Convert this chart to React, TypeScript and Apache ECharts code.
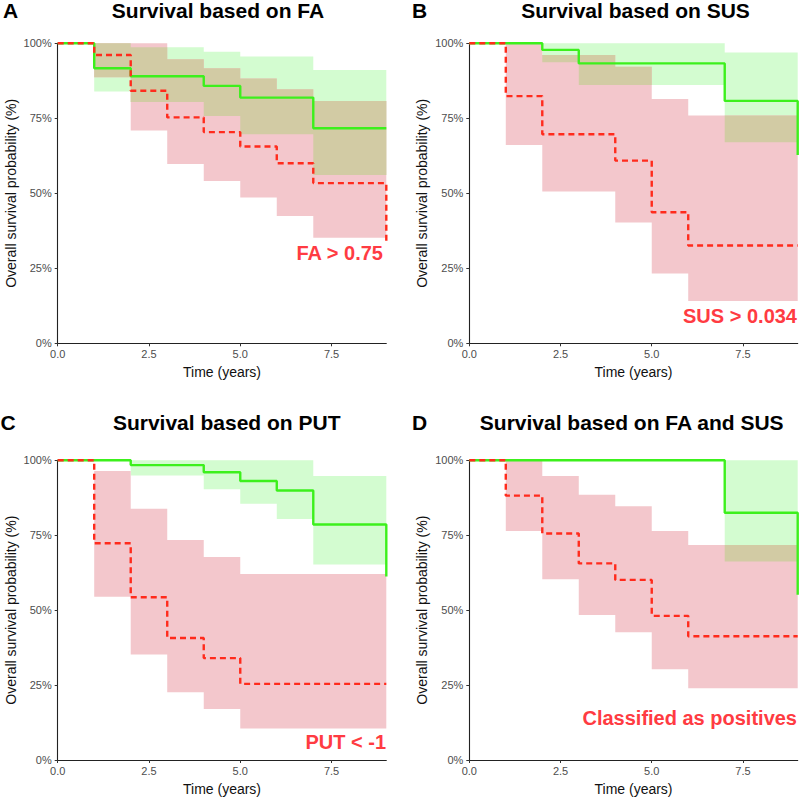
import React, { useEffect, useRef } from "react";
import * as echarts from "echarts";

// Follow-up time grid (years); every step interval runs years[i] .. years[i + 1]
const years = [0, 1, 2, 3, 4, 5, 6, 7, 8, 9];
const xTicks = [0, 2.5, 5, 7.5];

// A – FA: reference group (green) and FA > 0.75 (red), survival in %
const faNegSurv = [100, 91.7, 89.0, 89.0, 85.8, 81.9, 81.9, 71.7, 71.7];
const faNegEnd = 71.7;
const faNegUpper = [null, 100, 98.7, 98.7, 97.2, 95.6, 95.6, 91.1, 91.1];
const faNegLower = [null, 83.9, 80.4, 80.4, 75.8, 69.7, 69.7, 56.1, 56.1];
const faPosSurv = [100, 96.1, 84.2, 75.3, 70.4, 65.6, 60.0, 53.4, 53.4];
const faPosEnd = 33.3;
const faPosUpper = [null, 100, 100, 94.7, 91.7, 88.3, 84.7, 80.8, 80.8];
const faPosLower = [null, 88.7, 70.9, 59.8, 54.1, 48.6, 42.4, 35.2, 35.2];

// B – SUS
const susNegSurv = [100, 100, 97.8, 93.3, 93.3, 93.3, 93.3, 80.8, 80.8];
const susNegEnd = 62.8;
const susNegUpper = [null, null, 100, 100, 100, 100, 100, 96.9, 96.9];
const susNegLower = [null, null, 93.7, 86.1, 86.1, 86.1, 86.1, 67.0, 67.0];
const susPosSurv = [100, 82.4, 69.7, 69.7, 60.9, 43.7, 32.6, 32.6, 32.6];
const susPosEnd = 32.6;
const susPosUpper = [null, 100, 96.1, 96.1, 92.2, 81.4, 75.9, 75.9, 75.9];
const susPosLower = [null, 66.1, 50.6, 50.6, 40.3, 23.3, 14.1, 14.1, 14.1];

// C – PUT
const putNegSurv = [100, 100, 98.4, 98.4, 96.0, 93.1, 89.9, 78.6, 78.6];
const putNegEnd = 61.2;
const putNegUpper = [null, null, 100, 100, 100, 100, 100, 94.8, 94.8];
const putNegLower = [null, null, 94.9, 94.9, 90.3, 85.5, 80.4, 65.2, 65.2];
const putPosSurv = [100, 72.3, 54.3, 40.7, 34.0, 25.4, 25.4, 25.4, 25.4];
const putPosEnd = 25.4;
const putPosUpper = [null, 96.4, 83.8, 73.4, 67.7, 62.1, 62.1, 62.1, 62.1];
const putPosLower = [null, 54.5, 35.2, 22.6, 17.0, 10.5, 10.5, 10.5, 10.5];

// D – FA and SUS combined
const bothNegSurv = [100, 100, 100, 100, 100, 100, 100, 82.5, 82.5];
const bothNegEnd = 55.1;
const bothNegUpper = [null, null, null, null, null, null, null, 100, 100];
const bothNegLower = [null, null, null, null, null, null, null, 66.2, 66.2];
const bothPosSurv = [100, 88.2, 75.6, 65.6, 60.1, 48.1, 41.3, 41.3, 41.3];
const bothPosEnd = 41.3;
const bothPosUpper = [null, 100, 94.8, 88.5, 84.7, 76.4, 71.7, 71.7, 71.7];
const bothPosLower = [null, 76.4, 60.3, 48.4, 42.6, 30.3, 23.9, 23.9, 23.9];

const panelTitles = [
  "Survival based on FA",
  "Survival based on SUS",
  "Survival based on PUT",
  "Survival based on FA and SUS",
];
const panelLetters = ["A", "B", "C", "D"];
const groupLabels = ["FA > 0.75", "SUS > 0.034", "PUT < -1", "Classified as positives"];

type Band = { upper: (number | null)[]; lower: (number | null)[] };
type Arm = Band & { surv: number[]; end: number };

const arms: { neg: Arm; pos: Arm }[] = [
  {
    neg: { surv: faNegSurv, end: faNegEnd, upper: faNegUpper, lower: faNegLower },
    pos: { surv: faPosSurv, end: faPosEnd, upper: faPosUpper, lower: faPosLower },
  },
  {
    neg: { surv: susNegSurv, end: susNegEnd, upper: susNegUpper, lower: susNegLower },
    pos: { surv: susPosSurv, end: susPosEnd, upper: susPosUpper, lower: susPosLower },
  },
  {
    neg: { surv: putNegSurv, end: putNegEnd, upper: putNegUpper, lower: putNegLower },
    pos: { surv: putPosSurv, end: putPosEnd, upper: putPosUpper, lower: putPosLower },
  },
  {
    neg: { surv: bothNegSurv, end: bothNegEnd, upper: bothNegUpper, lower: bothNegLower },
    pos: { surv: bothPosSurv, end: bothPosEnd, upper: bothPosUpper, lower: bothPosLower },
  },
];

const FONT = '"Liberation Sans", Arial, Helvetica, sans-serif';
const GREEN_LINE = "#3CF01C";
const RED_LINE = "#FF2B1C";
const GREEN_FILL = "#D3FCD0";
const RED_FILL = "#F3C7CC";
const BOTH_FILL = "#D2CBA4";
const LABEL_RED = "#FF3B42";

// Pixel layout of the four panels
const layouts = [
  { left: 57.7, top: 43.3, width: 328.6, height: 300, titleX: 218, titleY: 10, letterX: 3, letterY: 10, labelX: 383, labelY: 253 },
  { left: 469.3, top: 43.3, width: 328.4, height: 300, titleX: 635.5, titleY: 10, letterX: 412, letterY: 10, labelX: 797, labelY: 315.5 },
  { left: 57.7, top: 460.3, width: 328.6, height: 299.7, titleX: 226.7, titleY: 422, letterX: 0.5, letterY: 422, labelX: 386, labelY: 742 },
  { left: 469.3, top: 460.3, width: 328.4, height: 299.7, titleX: 631.7, titleY: 422, letterX: 412, letterY: 422, labelX: 797, labelY: 717.5 },
];

// Where both confidence bands cover the same interval
function overlapOf(a: Band, b: Band): Band {
  const upper: (number | null)[] = [];
  const lower: (number | null)[] = [];
  a.upper.forEach((_, i) => {
    const au = a.upper[i], al = a.lower[i], bu = b.upper[i], bl = b.lower[i];
    if (au == null || al == null || bu == null || bl == null) {
      upper.push(null);
      lower.push(null);
      return;
    }
    const hi = Math.min(au, bu);
    const lo = Math.max(al, bl);
    upper.push(hi > lo ? hi : null);
    lower.push(hi > lo ? lo : null);
  });
  return { upper, lower };
}

// Split a band into runs of consecutive defined intervals
function segmentsOf(upper: (number | null)[]): number[][] {
  const segs: number[][] = [];
  let cur: number[] = [];
  upper.forEach((v, i) => {
    if (v == null) {
      if (cur.length) segs.push(cur);
      cur = [];
    } else cur.push(i);
  });
  if (cur.length) segs.push(cur);
  return segs;
}

function bandSeries(gi: number, band: Band, fill: string) {
  const segs = segmentsOf(band.upper);
  return {
    type: "custom",
    xAxisIndex: gi,
    yAxisIndex: gi,
    silent: true,
    data: segs.map((s) => [
      years[s[0]],
      years[s[s.length - 1] + 1],
      Math.min(...s.map((i) => band.lower[i] as number)),
      Math.max(...s.map((i) => band.upper[i] as number)),
    ]),
    encode: { x: [0, 1], y: [2, 3] },
    renderItem: (params: any, api: any) => {
      const seg = segs[params.dataIndex];
      const pts: number[][] = [];
      seg.forEach((i) => {
        pts.push(api.coord([years[i], band.upper[i]]));
        pts.push(api.coord([years[i + 1], band.upper[i]]));
      });
      for (let k = seg.length - 1; k >= 0; k--) {
        const i = seg[k];
        pts.push(api.coord([years[i + 1], band.lower[i]]));
        pts.push(api.coord([years[i], band.lower[i]]));
      }
      return { type: "polygon", shape: { points: pts }, style: { fill } };
    },
  };
}

function stepSeries(gi: number, arm: Arm, color: string, dashed: boolean) {
  const data = arm.surv.map((v, i) => [years[i], v]);
  data.push([years[years.length - 1], arm.end]);
  return {
    type: "line",
    xAxisIndex: gi,
    yAxisIndex: gi,
    step: "end",
    symbol: "none",
    silent: true,
    data,
    lineStyle: {
      color,
      width: 2.4,
      type: dashed ? [6, 4] : "solid",
      cap: "butt",
    },
  };
}

function buildOption() {
  const grid = layouts.map((l) => ({ left: l.left, top: l.top, width: l.width, height: l.height }));
  const xAxis = layouts.map((_, gi) => ({
    type: "value",
    gridIndex: gi,
    min: 0,
    max: 9,
    name: "Time (years)",
    nameLocation: "middle",
    nameGap: 22,
    nameTextStyle: { fontSize: 14, color: "#111", fontFamily: FONT },
    axisLine: { show: true, onZero: false, lineStyle: { color: "#222", width: 1.1 } },
    axisTick: { show: true, length: 3, customValues: xTicks, lineStyle: { color: "#333", width: 1 } },
    axisLabel: {
      customValues: xTicks,
      formatter: (v: number) => v.toFixed(1),
      color: "#4D4D4D",
      fontSize: 11,
      margin: 5,
      fontFamily: FONT,
    },
    splitLine: { show: false },
  }));
  const yAxis = layouts.map((_, gi) => ({
    type: "value",
    gridIndex: gi,
    min: 0,
    max: 100,
    interval: 25,
    name: "Overall survival probability (%)",
    nameLocation: "middle",
    nameGap: 40,
    nameTextStyle: { fontSize: 14, color: "#111", fontFamily: FONT },
    axisLine: { show: true, onZero: false, lineStyle: { color: "#222", width: 1.1 } },
    axisTick: { show: true, length: 3, lineStyle: { color: "#333", width: 1 } },
    axisLabel: {
      formatter: "{value}%",
      color: "#4D4D4D",
      fontSize: 11,
      margin: 6,
      fontFamily: FONT,
    },
    splitLine: { show: false },
  }));

  const series: any[] = [];
  arms.forEach((a, gi) => {
    series.push(bandSeries(gi, a.neg, GREEN_FILL));
    series.push(bandSeries(gi, a.pos, RED_FILL));
    series.push(bandSeries(gi, overlapOf(a.neg, a.pos), BOTH_FILL));
    series.push(stepSeries(gi, a.neg, GREEN_LINE, false));
    series.push(stepSeries(gi, a.pos, RED_LINE, true));
  });

  const graphic: any[] = [];
  layouts.forEach((l, gi) => {
    graphic.push({
      type: "text",
      x: l.titleX,
      y: l.titleY,
      style: {
        text: panelTitles[gi],
        fontSize: 21,
        fontWeight: "bold",
        fontFamily: FONT,
        fill: "#000",
        textAlign: "center",
        textVerticalAlign: "middle",
      },
    });
    graphic.push({
      type: "text",
      x: l.letterX,
      y: l.letterY,
      style: {
        text: panelLetters[gi],
        fontSize: 21,
        fontWeight: "bold",
        fontFamily: FONT,
        fill: "#000",
        textAlign: "left",
        textVerticalAlign: "middle",
      },
    });
    graphic.push({
      type: "text",
      x: l.labelX,
      y: l.labelY,
      z: 10,
      style: {
        text: groupLabels[gi],
        fontSize: 20,
        fontWeight: "bold",
        fontFamily: FONT,
        fill: LABEL_RED,
        textAlign: "right",
        textVerticalAlign: "middle",
      },
    });
  });

  return {
    animation: false,
    backgroundColor: "#fff",
    textStyle: { fontFamily: FONT },
    grid,
    xAxis,
    yAxis,
    series,
    graphic,
  };
}

export default function App() {
  const ref = useRef<HTMLDivElement>(null);
  useEffect(() => {
    if (!ref.current) return;
    const chart = echarts.init(ref.current, undefined, { renderer: "svg" });
    chart.setOption(buildOption() as any);
    return () => chart.dispose();
  }, []);
  return (
    <div
      ref={ref}
      style={{ position: "absolute", left: 0, top: 0, width: 800, height: 797, background: "#fff" }}
    />
  );
}
